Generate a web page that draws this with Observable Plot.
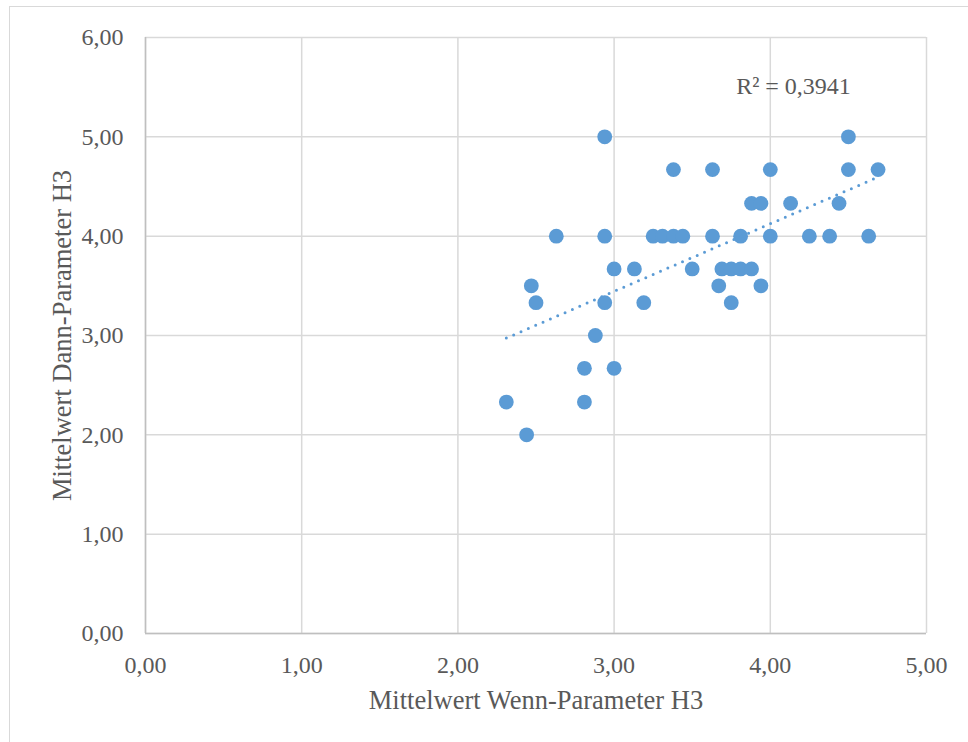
<!DOCTYPE html>
<html><head><meta charset="utf-8">
<script src="https://cdn.jsdelivr.net/npm/d3@7"></script>
<script src="https://cdn.jsdelivr.net/npm/@observablehq/plot@0.6"></script>
<style>
html,body{margin:0;padding:0;background:#fff;overflow:hidden;}
#wrap{position:relative;width:968px;height:742px;}
#border{position:absolute;left:9px;top:6px;width:1000px;height:800px;border:1.5px solid #d9d9d9;box-sizing:border-box;}
#chart{position:absolute;left:0;top:0;}
</style></head><body>
<div id="wrap"><div id="border"></div><div id="chart"></div></div>
<script>
// Mittelwert Wenn-Parameter H3 (x) and Mittelwert Dann-Parameter H3 (y)
const wenn = [2.31, 2.44, 2.47, 2.50, 2.63, 2.81, 2.81, 2.88, 2.94, 2.94, 2.94, 3.00, 3.00, 3.13, 3.19,
              3.25, 3.31, 3.38, 3.44, 3.38, 3.50, 3.63, 3.63, 3.69, 3.75, 3.81, 3.88, 3.67, 3.94, 3.75,
              3.88, 3.94, 3.81, 4.00, 4.00, 4.13, 4.25, 4.38, 4.44, 4.50, 4.50, 4.63, 4.69];
const dann = [2.33, 2.00, 3.50, 3.33, 4.00, 2.67, 2.33, 3.00, 5.00, 4.00, 3.33, 3.67, 2.67, 3.67, 3.33,
              4.00, 4.00, 4.00, 4.00, 4.67, 3.67, 4.67, 4.00, 3.67, 3.67, 3.67, 3.67, 3.50, 3.50, 3.33,
              4.33, 4.33, 4.00, 4.67, 4.00, 4.33, 4.00, 4.00, 4.33, 5.00, 4.67, 4.00, 4.67];
const xTicks = [0, 1, 2, 3, 4, 5];
const yTicks = [0, 1, 2, 3, 4, 5, 6];
const xTitle = "Mittelwert Wenn-Parameter H3";
const yTitle = "Mittelwert Dann-Parameter H3";
const r2Label = "R² = 0,3941";

const data = wenn.map((w, i) => ({x: w, y: dann[i]}));
const fmt = d => d.toFixed(2).replace(".", ",");

const chart = Plot.plot({
  width: 968, height: 742,
  marginLeft: 145, marginRight: 42, marginTop: 37, marginBottom: 109,
  style: {fontFamily: '"Liberation Serif","Times New Roman",serif', fontSize: "24px", color: "#595959", background: "transparent"},
  x: {domain: [0, 5]},
  y: {domain: [0, 6]},
  marks: [
    Plot.gridX(xTicks, {stroke: "#d9d9d9", strokeOpacity: 1, strokeWidth: 1.5}),
    Plot.gridY(yTicks, {stroke: "#d9d9d9", strokeOpacity: 1, strokeWidth: 1.5}),
    Plot.ruleX([0], {stroke: "#bfbfbf", strokeWidth: 1.5}),
    Plot.ruleY([0], {stroke: "#bfbfbf", strokeWidth: 1.5}),
    Plot.axisX(xTicks, {tickSize: 0, tickPadding: 22, tickFormat: fmt, label: null}),
    Plot.axisY(yTicks, {tickSize: 0, tickPadding: 22, tickFormat: fmt, label: null}),
    Plot.text([xTitle], {frameAnchor: "bottom", dy: 67, fontSize: 26.5, lineAnchor: "middle", textAnchor: "middle", fill: "#595959"}),
    Plot.text([yTitle], {frameAnchor: "left", dx: -83, rotate: -90, fontSize: 26.5, textAnchor: "middle", lineAnchor: "middle", fill: "#595959"}),
    Plot.dot(data, {x: "x", y: "y", r: 7.4, fill: "#5b9bd5"}),
    Plot.linearRegressionY(data, {x: "x", y: "y", ci: 0, stroke: "#5b9bd5", strokeWidth: 3, strokeDasharray: "0,8", strokeLinecap: "round"}),
    Plot.text([r2Label], {frameAnchor: "top-right", dx: -133, dy: 48.6, fontSize: 24, textAnchor: "middle", lineAnchor: "middle", fill: "#595959"})
  ]
});
document.getElementById("chart").appendChild(chart);
</script>
</body></html>
